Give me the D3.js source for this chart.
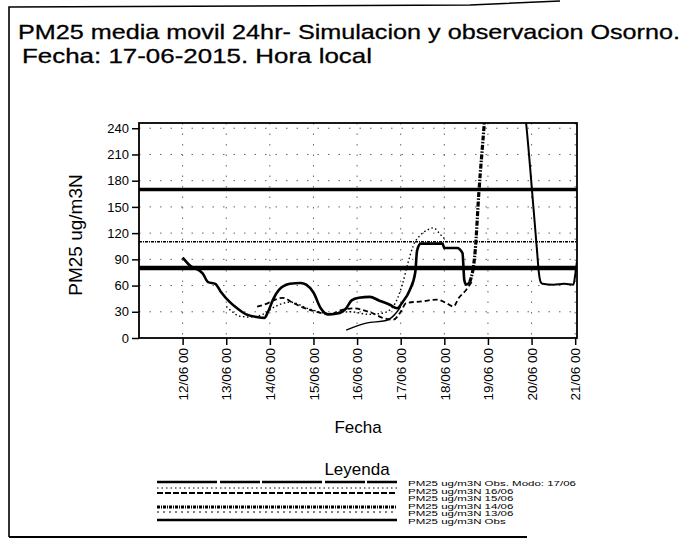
<!DOCTYPE html>
<html>
<head>
<meta charset="utf-8">
<script src="https://cdn.jsdelivr.net/npm/d3@7"></script>
<style>
  body { margin: 0; background: #fff; }
  svg { display: block; font-family: "Liberation Sans", Arial, sans-serif; }
</style>
</head>
<body>
<div id="chart"></div>
<script>
// Data (PM25 ug/m3N, 24h moving average)
var tMod17 = ["12/06 00","12/06 04","12/06 11","12/06 14","12/06 18","12/06 21","13/06 02","13/06 06","13/06 11","13/06 17","13/06 21","13/06 23","14/06 02","14/06 05","14/06 11","14/06 17","14/06 20","15/06 00","15/06 04","15/06 08","15/06 13","15/06 18","15/06 21","16/06 01","16/06 07","16/06 12","16/06 18","16/06 22","17/06 01","17/06 05","17/06 08","17/06 09","17/06 11","17/06 23","18/06 00","18/06 07","18/06 10","18/06 11","18/06 12","18/06 14"];
var vMod17 = [92,83,74,64,62,53,41,34,27,24,23,30,45,55,62,63,61,52,34,27,28,34,43,46,47,43,38,34,41,55,75,100,108,108,103,103,97,66,61,64];

var tMod16 = ["13/06 00","13/06 04","13/06 07","13/06 13","13/06 20","14/06 03","14/06 11","14/06 22","15/06 09","15/06 20","16/06 07","16/06 15","16/06 21","17/06 01","17/06 04","17/06 07","17/06 11","17/06 15","17/06 18","17/06 22","18/06 01"];
var vMod16 = [36,29,25,24,27,36,41,33,28,30,27,29,40,62,86,106,118,124,126,118,112];

var tMod15 = ["13/06 17","13/06 22","14/06 02","14/06 07","14/06 13","14/06 17","15/06 00","15/06 09","15/06 14","15/06 22","16/06 03","16/06 09","16/06 14","16/06 20","17/06 00","17/06 03","17/06 12","17/06 20","18/06 01","18/06 05","18/06 08","18/06 12","18/06 15"];
var vMod15 = [36,39,43,46,40,36,31,27,31,34,32,28,23,21,30,40,42,44,40,36,46,55,64];

var tMod14 = ["18/06 14","18/06 17","18/06 19","18/06 22","19/06 01"];
var vMod14 = [64,100,166,246,330];

var tMod13 = ["15/06 18","16/06 05","16/06 16","16/06 22","17/06 00"];
var vMod13 = [9,17,20,30,36];

var tObs = ["19/06 18","19/06 21","20/06 01","20/06 03","20/06 04","20/06 05","20/06 06","20/06 12","20/06 18","20/06 23","21/06 00","21/06 01"];
var vObs = [300,246,150,100,75,64,62,61,62,61,72,88];

var legendLabels = ["PM25 ug/m3N Obs. Modo: 17/06","PM25 ug/m3N 16/06","PM25 ug/m3N 15/06","PM25 ug/m3N 14/06","PM25 ug/m3N 13/06","PM25 ug/m3N Obs"];
var refLevels = [170, 110, 80];
var yTicks = [0, 30, 60, 90, 120, 150, 180, 210, 240];
var xTicks = ["12/06 00","13/06 00","14/06 00","15/06 00","16/06 00","17/06 00","18/06 00","19/06 00","20/06 00","21/06 00"];

var W = 689, H = 541;
var parse = d3.timeParse("%Y %d/%m %H");
function pt(s) { return parse("2015 " + s); }

var svg = d3.select("#chart").append("svg")
    .attr("width", W)
    .attr("height", H);

// page frame from the scan
svg.append("path")
    .attr("d", "M9,537 L9,7 L470,5 L560,1")
    .attr("fill", "none").attr("stroke", "#000").attr("stroke-width", 1.6);
svg.append("line")
    .attr("x1", 9).attr("x2", 527).attr("y1", 537).attr("y2", 537)
    .attr("stroke", "#000").attr("stroke-width", 2);

// titles
svg.append("text").attr("x", 18).attr("y", 39)
    .attr("font-size", 21).attr("textLength", 662).attr("lengthAdjust", "spacingAndGlyphs")
    .attr("stroke", "#000").attr("stroke-width", 0.3)
    .text("PM25 media movil 24hr- Simulacion y observacion Osorno.");
svg.append("text").attr("x", 22).attr("y", 63)
    .attr("font-size", 21).attr("textLength", 350).attr("lengthAdjust", "spacingAndGlyphs")
    .attr("stroke", "#000").attr("stroke-width", 0.3)
    .text("Fecha: 17-06-2015. Hora local");

// scales
var x = d3.scaleTime()
    .domain([pt("11/06 00"), pt("21/06 01")])
    .range([139, 577]);
var y = d3.scaleLinear()
    .domain([0, 246])
    .range([338, 123]);

// grid (sparse dots in the scan)
var grid = svg.append("g").attr("stroke", "#666").attr("stroke-width", 1).attr("stroke-dasharray", "1.5,9");
grid.selectAll(".gx").data(xTicks).enter().append("line")
    .attr("x1", d => x(pt(d))).attr("x2", d => x(pt(d)))
    .attr("y1", y(246)).attr("y2", y(0));
grid.selectAll(".gy").data(yTicks.slice(1)).enter().append("line")
    .attr("x1", x.range()[0]).attr("x2", x.range()[1])
    .attr("y1", d => y(d)).attr("y2", d => y(d));

// reference levels
svg.selectAll(".ref").data(refLevels).enter().append("line")
    .attr("x1", x.range()[0]).attr("x2", x.range()[1])
    .attr("y1", d => y(d)).attr("y2", d => y(d))
    .attr("stroke", "#000")
    .attr("stroke-width", d => d === 110 ? 1.5 : (d === 80 ? 4.5 : 3.5))
    .attr("stroke-dasharray", d => d === 110 ? "3,1,1,1" : null);

// clip
svg.append("clipPath").attr("id", "clip").append("rect")
    .attr("x", 139).attr("y", 123).attr("width", 438).attr("height", 215);

var series = [
    { t: tMod17, v: vMod17, w: 2.6, dash: null },
    { t: tMod16, v: vMod16, w: 1.4, dash: "1.5,2.5" },
    { t: tMod15, v: vMod15, w: 1.8, dash: "5,3" },
    { t: tMod14, v: vMod14, w: 3.2, dash: "5,1.5,1.5,1.5" },
    { t: tMod13, v: vMod13, w: 1.4, dash: null },
    { t: tObs, v: vObs, w: 2, dash: null }
];

var line = d3.line()
    .x(d => x(d[0]))
    .y(d => y(d[1]))
    .curve(d3.curveMonotoneX);

var lines = svg.append("g").attr("clip-path", "url(#clip)");
series.forEach(function (s) {
    var pts = s.t.map((d, i) => [pt(d), s.v[i]]);
    lines.append("path")
        .datum(pts)
        .attr("d", line)
        .attr("fill", "none")
        .attr("stroke", "#000")
        .attr("stroke-width", s.w)
        .attr("stroke-dasharray", s.dash)
        .attr("stroke-linejoin", "round");
});

// frame
svg.append("rect")
    .attr("x", 139).attr("y", 123).attr("width", 438).attr("height", 215)
    .attr("fill", "none").attr("stroke", "#000").attr("stroke-width", 1.8);

// y axis
var yAxis = svg.append("g")
    .attr("transform", "translate(139,0)")
    .call(d3.axisLeft(y).tickValues(yTicks).tickSize(7).tickSizeOuter(0));
yAxis.select(".domain").remove();
yAxis.selectAll("line").attr("stroke-width", 1.5);
yAxis.selectAll("text").attr("font-size", 13).attr("font-family", "Liberation Sans, Arial, sans-serif").attr("fill", "#000").attr("x", -10);

// x axis
var xAxis = svg.append("g")
    .attr("transform", "translate(0,338)")
    .call(d3.axisBottom(x).tickValues(xTicks.map(pt)).tickFormat(d3.timeFormat("%d/%m %H")).tickSize(7).tickSizeOuter(0));
xAxis.select(".domain").remove();
xAxis.selectAll("line").attr("stroke-width", 1.5);
xAxis.selectAll("text")
    .attr("font-size", 13.5).attr("font-family", "Liberation Sans, Arial, sans-serif").attr("fill", "#000")
    .attr("transform", "rotate(-90)")
    .attr("text-anchor", "end")
    .attr("x", -10).attr("y", 0).attr("dy", "0.35em");

// axis titles
svg.append("text")
    .attr("transform", "translate(82,235) rotate(-90)")
    .attr("text-anchor", "middle").attr("font-size", 19)
    .text("PM25 ug/m3N");
svg.append("text")
    .attr("x", 358).attr("y", 433)
    .attr("text-anchor", "middle").attr("font-size", 17)
    .text("Fecha");

// legend
svg.append("text")
    .attr("x", 357).attr("y", 475)
    .attr("text-anchor", "middle").attr("font-size", 17)
    .text("Leyenda");

var legY = [482, 488, 493, 507, 512, 520];
var legStyle = [
    { w: 2.4, dash: "60,3,40,2" },
    { w: 1, dash: "1.5,3" },
    { w: 2, dash: "6,2" },
    { w: 3, dash: "3,1,1,1" },
    { w: 1, dash: "2,4" },
    { w: 2.4, dash: null }
];
var leg = svg.append("g");
leg.selectAll("line").data(legendLabels).enter().append("line")
    .attr("x1", 157).attr("x2", 397)
    .attr("y1", (d, i) => legY[i]).attr("y2", (d, i) => legY[i])
    .attr("stroke", "#000")
    .attr("stroke-width", (d, i) => legStyle[i].w)
    .attr("stroke-dasharray", (d, i) => legStyle[i].dash);
// labels are squeezed vertically, as in the scan
leg.selectAll("text").data(legendLabels).enter().append("text")
    .attr("transform", (d, i) => "translate(408," + (486 + i * 7.6) + ") scale(1.15,0.64)")
    .attr("font-size", 10)
    .text(d => d);
</script>
</body>
</html>
